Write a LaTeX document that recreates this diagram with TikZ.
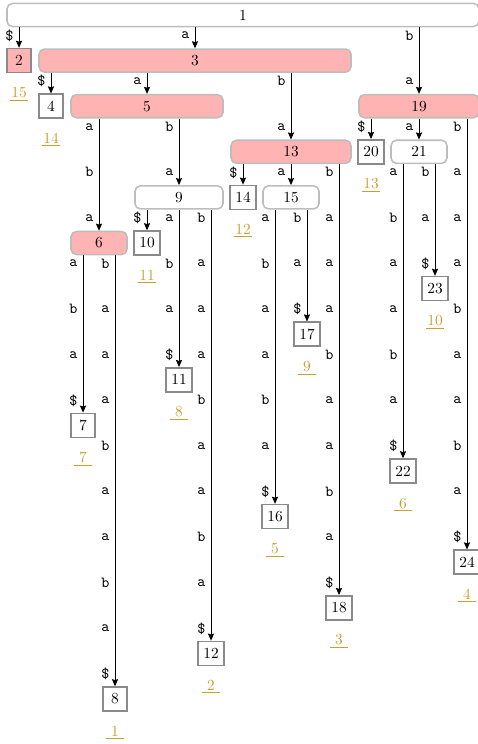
\documentclass[tikz,border=0pt]{standalone}
\usetikzlibrary{arrows.meta,calc}

\definecolor{hotpink}{HTML}{FFB3B3}
\definecolor{framegray}{HTML}{BDBDBD}
\definecolor{leafgray}{HTML}{8A8A8A}
\definecolor{sufgold}{HTML}{C9A02E}
\newcommand{\sufidx}[1]{\underline{\makebox[1.2em]{#1}}}

\begin{document}
\begin{tikzpicture}[
    x=20.8pt, y=-29.64pt,
    inode/.style={draw=framegray, line width=1pt, rounded corners=3.5pt, fill=white, minimum height=15pt, inner sep=0pt, minimum width=#1*20.8pt+15.6pt},
    inode/.default=1,
    leaf/.style={draw=leafgray, line width=1pt, fill=white, minimum width=15.6pt, minimum height=15.6pt, inner sep=3.5pt, label={[sufnum]below:\sufidx{#1}}},
    hot/.style={fill=hotpink},
    edge/.style={-{Stealth[length=4.6pt,width=4pt,inset=0.6pt]}, line width=0.6pt},
    lab/.style={left, font=\ttfamily},
    sufnum/.style={text=sufgold, inner sep=0pt, label distance=9pt}
]
    \useasboundingbox (-0.594,-0.329) rectangle (14.3125,15.987);

    % internal nodes
    \node[inode=14] (n1) at (7,0) {1};
    \node[inode=9, hot] (n3) at (5.5,1) {3};
    \node[inode=4, hot] (n5) at (4,2) {5};
    \node[inode=3, hot] (n19) at (12.5,2) {19};
    \node[inode=3, hot] (n13) at (8.5,3) {13};
    \node[inode] (n21) at (12.5,3) {21};
    \node[inode=2] (n9) at (5,4) {9};
    \node[inode] (n15) at (8.5,4) {15};
    \node[inode, hot] (n6) at (2.5,5) {6};

    % leaves
    \node[leaf=15, hot] (n2) at (0,1) {2};
    \node[leaf=14] (n4) at (1,2) {4};
    \node[leaf=13] (n20) at (11,3) {20};
    \node[leaf=12] (n14) at (7,4) {14};
    \node[leaf=11] (n10) at (4,5) {10};
    \node[leaf=10] (n23) at (13,6) {23};
    \node[leaf=9] (n17) at (9,7) {17};
    \node[leaf=8] (n11) at (5,8) {11};
    \node[leaf=7] (n7) at (2,9) {7};
    \node[leaf=6] (n22) at (12,10) {22};
    \node[leaf=5] (n16) at (8,11) {16};
    \node[leaf=4] (n24) at (14,12) {24};
    \node[leaf=3] (n18) at (10,13) {18};
    \node[leaf=2] (n12) at (6,14) {12};
    \node[leaf=1] (n8) at (3,15) {8};

    % edges with their letters
    \foreach \p/\c/\w in {n1/n2/\$, n1/n3/a, n1/n19/{b,a},
        n3/n4/\$, n3/n5/a, n3/n13/{b,a},
        n5/n6/{a,b,a}, n5/n9/{b,a},
        n19/n20/\$, n19/n21/a, n19/n24/{b,a,a,a,b,a,a,b,a,\$},
        n13/n14/\$, n13/n15/a, n13/n18/{b,a,a,a,b,a,a,b,a,\$},
        n21/n22/{a,b,a,a,b,a,\$}, n21/n23/{b,a,\$},
        n9/n10/\$, n9/n11/{a,b,a,\$}, n9/n12/{b,a,a,a,b,a,a,b,a,\$},
        n15/n16/{a,b,a,a,b,a,\$}, n15/n17/{b,a,\$},
        n6/n7/{a,b,a,\$}, n6/n8/{b,a,a,a,b,a,a,b,a,\$}} {
        \draw[edge] (\c.north |- \p.south) -- (\c.north);
        \foreach \l [count=\k] in \w
            \node[lab] at ($(\c.north |- \p.center) + (0,\k-0.55)$) {\l};
    }
\end{tikzpicture}
\end{document}
